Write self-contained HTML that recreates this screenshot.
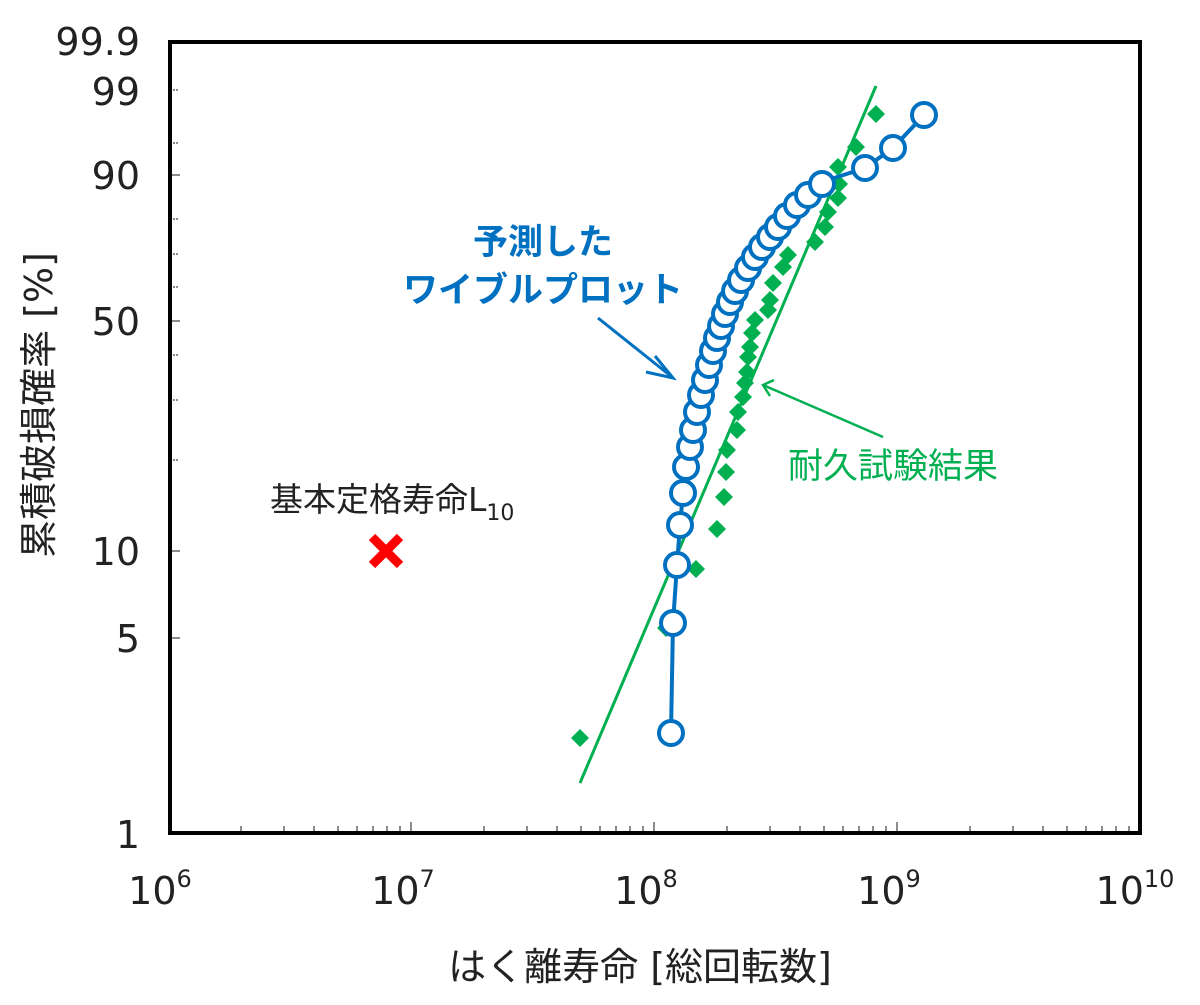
<!DOCTYPE html>
<html><head><meta charset="utf-8"><style>
body{margin:0;background:#fff;}
svg text{font-family:"DejaVu Sans","Noto Sans CJK JP",sans-serif;}
</style></head><body>
<svg width="1200" height="1000" viewBox="0 0 1200 1000" xmlns="http://www.w3.org/2000/svg">
<rect width="1200" height="1000" fill="#fff"/>
<g stroke="#666" stroke-width="1.5">
<line x1="170" y1="90" x2="178" y2="90" stroke-dasharray="2,1"/>
<line x1="170" y1="143" x2="178" y2="143" stroke-dasharray="2,1"/>
<line x1="170" y1="175" x2="180" y2="175"/>
<line x1="170" y1="219" x2="178" y2="219" stroke-dasharray="2,1"/>
<line x1="170" y1="254" x2="178" y2="254" stroke-dasharray="2,1"/>
<line x1="170" y1="287" x2="178" y2="287" stroke-dasharray="2,1"/>
<line x1="170" y1="321" x2="180" y2="321"/>
<line x1="170" y1="355" x2="178" y2="355" stroke-dasharray="2,1"/>
<line x1="170" y1="400" x2="178" y2="400" stroke-dasharray="2,1"/>
<line x1="170" y1="460" x2="178" y2="460" stroke-dasharray="2,1"/>
<line x1="170" y1="551" x2="180" y2="551"/>
<line x1="170" y1="638" x2="180" y2="638"/>
</g>
<g stroke="#666" stroke-width="1.5">
<line x1="241" y1="833" x2="241" y2="826"/><line x1="284" y1="833" x2="284" y2="826"/><line x1="314" y1="833" x2="314" y2="826"/><line x1="338" y1="833" x2="338" y2="826"/><line x1="357" y1="833" x2="357" y2="826"/><line x1="373" y1="833" x2="373" y2="826"/><line x1="387" y1="833" x2="387" y2="826"/><line x1="400" y1="833" x2="400" y2="826"/><line x1="411" y1="833" x2="411" y2="822"/>
<line x1="484" y1="833" x2="484" y2="826"/><line x1="527" y1="833" x2="527" y2="826"/><line x1="557" y1="833" x2="557" y2="826"/><line x1="581" y1="833" x2="581" y2="826"/><line x1="600" y1="833" x2="600" y2="826"/><line x1="616" y1="833" x2="616" y2="826"/><line x1="630" y1="833" x2="630" y2="826"/><line x1="643" y1="833" x2="643" y2="826"/><line x1="654" y1="833" x2="654" y2="822"/>
<line x1="727" y1="833" x2="727" y2="826"/><line x1="770" y1="833" x2="770" y2="826"/><line x1="800" y1="833" x2="800" y2="826"/><line x1="824" y1="833" x2="824" y2="826"/><line x1="843" y1="833" x2="843" y2="826"/><line x1="859" y1="833" x2="859" y2="826"/><line x1="873" y1="833" x2="873" y2="826"/><line x1="886" y1="833" x2="886" y2="826"/><line x1="897" y1="833" x2="897" y2="822"/>
<line x1="970" y1="833" x2="970" y2="826"/><line x1="1013" y1="833" x2="1013" y2="826"/><line x1="1043" y1="833" x2="1043" y2="826"/><line x1="1067" y1="833" x2="1067" y2="826"/><line x1="1086" y1="833" x2="1086" y2="826"/><line x1="1102" y1="833" x2="1102" y2="826"/><line x1="1116" y1="833" x2="1116" y2="826"/><line x1="1129" y1="833" x2="1129" y2="826"/>
</g>
<rect x="170" y="42" width="970" height="791" fill="none" stroke="#000" stroke-width="4"/>
<g font-size="38" fill="#222" text-anchor="end">
<text x="140" y="55">99.9</text>
<text x="140" y="105">99</text>
<text x="140" y="189">90</text>
<text x="140" y="335">50</text>
<text x="140" y="565">10</text>
<text x="140" y="652">5</text>
<text x="140" y="848">1</text>
</g>
<g font-size="38" fill="#222" text-anchor="middle">
<text x="160" y="904">10<tspan font-size="24" dy="-17">6</tspan></text>
<text x="403" y="904">10<tspan font-size="24" dy="-17">7</tspan></text>
<text x="646" y="904">10<tspan font-size="24" dy="-17">8</tspan></text>
<text x="889" y="904">10<tspan font-size="24" dy="-17">9</tspan></text>
<text x="1135" y="904">10<tspan font-size="24" dy="-17">10</tspan></text>
</g>
<text x="640" y="980" font-size="38" fill="#222" text-anchor="middle">はく離寿命 [総回転数]</text>
<text transform="translate(52,405) rotate(-90)" font-size="38" fill="#222" text-anchor="middle">累積破損確率 [%]</text>
<line x1="580" y1="783" x2="876" y2="86" stroke="#00b050" stroke-width="3"/>
<path fill="#00b050" d="
M876,105l9,9-9,9-9-9z M856,138l9,9-9,9-9-9z M838,158l9,9-9,9-9-9z M839,175l9,9-9,9-9-9z M838,189l9,9-9,9-9-9z M828,203l9,9-9,9-9-9z M825,218l9,9-9,9-9-9z M815,233l9,9-9,9-9-9z M788,246l9,9-9,9-9-9z M783,258l9,9-9,9-9-9z M773,274l9,9-9,9-9-9z M770,291l9,9-9,9-9-9z M768,301l9,9-9,9-9-9z M755,311l9,9-9,9-9-9z M752,324l9,9-9,9-9-9z M750,338l9,9-9,9-9-9z M748,348l9,9-9,9-9-9z M747,363l9,9-9,9-9-9z M745,374l9,9-9,9-9-9z M743,388l9,9-9,9-9-9z M738,403l9,9-9,9-9-9z M737,421l9,9-9,9-9-9z M727,441l9,9-9,9-9-9z M726,463l9,9-9,9-9-9z M724,488l9,9-9,9-9-9z M717,520l9,9-9,9-9-9z M696,560l9,9-9,9-9-9z M666,619l9,9-9,9-9-9z M580,729l9,9-9,9-9-9z"/>
<polyline fill="none" stroke="#0070c0" stroke-width="4" points="671,733 673,623 677,565 680,525 683,493 686,467 690,447 695,440 698,418 703,397 708,377 713,357 718,338 723,320 728,303 735,287 742,272 750,260 758,248 767,237 777,227 787,215 797,203 807,193 822,182 865,168 893,148 924,115"/>
<g fill="#fff" stroke="#0070c0" stroke-width="4">
<circle cx="671" cy="733" r="12"/><circle cx="673" cy="623" r="12"/><circle cx="677" cy="565" r="12"/><circle cx="680" cy="525" r="12"/><circle cx="683" cy="493" r="12"/><circle cx="686" cy="467" r="12"/><circle cx="690" cy="447" r="12"/><circle cx="693" cy="430" r="12"/><circle cx="697" cy="412" r="12"/><circle cx="701" cy="395" r="12"/><circle cx="705" cy="380" r="12"/><circle cx="709" cy="365" r="12"/><circle cx="713" cy="351" r="12"/><circle cx="717" cy="338" r="12"/><circle cx="721" cy="326" r="12"/><circle cx="725" cy="314" r="12"/><circle cx="730" cy="302" r="12"/><circle cx="735" cy="291" r="12"/><circle cx="741" cy="280" r="12"/><circle cx="748" cy="268" r="12"/><circle cx="755" cy="257" r="12"/><circle cx="762" cy="247" r="12"/><circle cx="770" cy="237" r="12"/><circle cx="778" cy="227" r="12"/><circle cx="787" cy="216" r="12"/><circle cx="797" cy="205" r="12"/><circle cx="808" cy="195" r="12"/><circle cx="822" cy="184" r="12"/><circle cx="865" cy="168" r="12"/><circle cx="893" cy="148" r="12"/><circle cx="924" cy="115" r="12"/>
</g>
<g font-size="35" font-weight="bold" fill="#0070c0" text-anchor="middle">
<text x="543" y="254">予測した</text>
<text x="543" y="302">ワイブルプロット</text>
</g>
<line x1="598" y1="318" x2="672" y2="377" stroke="#0070c0" stroke-width="3"/>
<polyline points="655,356 673,378 646,372" fill="none" stroke="#0070c0" stroke-width="3"/>
<text x="893" y="478" font-size="35" fill="#00b050" text-anchor="middle">耐久試験結果</text>
<line x1="883" y1="437" x2="763" y2="385" stroke="#00b050" stroke-width="2.5"/>
<polyline points="774,380 763,385 770,396" fill="none" stroke="#00b050" stroke-width="2.5"/>
<text x="270" y="511" font-size="33" fill="#222">基本定格寿命L<tspan font-size="22" dy="9">10</tspan></text>
<g stroke="#ff0000" stroke-width="9">
<line x1="372" y1="537" x2="400" y2="565"/><line x1="400" y1="537" x2="372" y2="565"/>
</g>
</svg>
</body></html>
